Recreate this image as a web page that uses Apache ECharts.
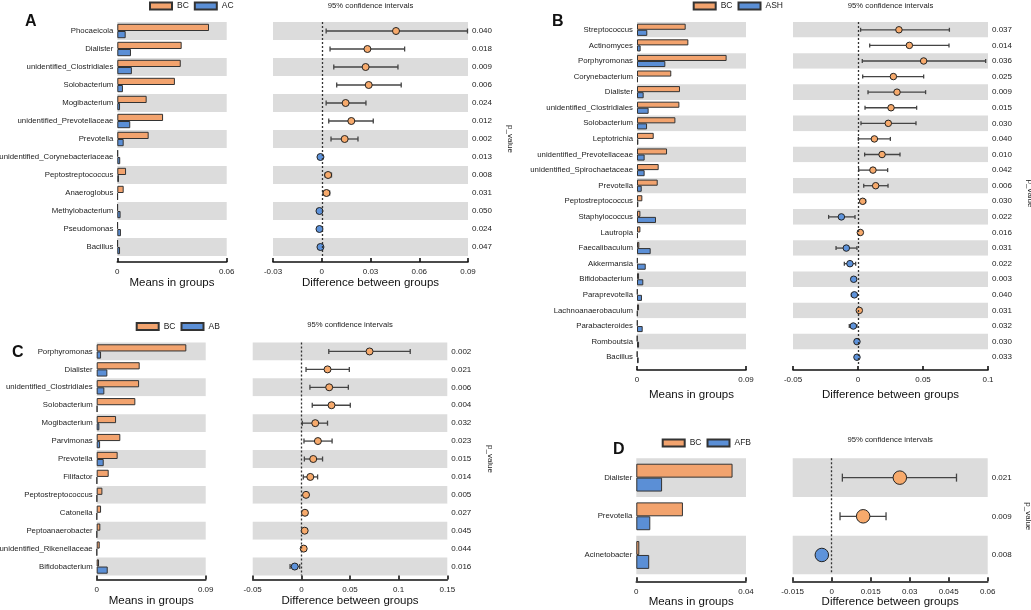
<!DOCTYPE html>
<html><head><meta charset="utf-8">
<script src="https://cdn.jsdelivr.net/npm/echarts@6/dist/echarts.min.js"></script>
<style>html,body{margin:0;padding:0;background:#fff}#c{width:1031px;height:610px}</style>
</head><body><div id="c"></div>
<script>
// ---------- Panel A : BC vs AC ----------
const catsA = ['Phocaeicola','Dialister','unidentified_Clostridiales','Solobacterium','Mogibacterium','unidentified_Prevotellaceae','Prevotella','unidentified_Corynebacteriaceae','Peptostreptococcus','Anaeroglobus','Methylobacterium','Pseudomonas','Bacillus'];
const bcA   = [0.0503,0.0353,0.0348,0.0316,0.0161,0.0251,0.0172,0.0004,0.0048,0.0035,0.0003,0.0003,0.0003];
const acA   = [0.0046,0.0075,0.0080,0.0031,0.0015,0.0071,0.0035,0.0016,0.0009,0.0003,0.0018,0.0020,0.0015];
const diffA = [0.0457,0.0281,0.0270,0.0289,0.0147,0.0182,0.0141,-0.0008,0.0039,0.0029,-0.0014,-0.0014,-0.0008];
const loA   = [0.0027,0.0051,0.0074,0.0092,0.0027,0.0043,0.0057,-0.0016,0.0020,0.0008,-0.0023,-0.0022,-0.0014];
const hiA   = [0.0897,0.0510,0.0469,0.0489,0.0272,0.0317,0.0223,0.0000,0.0060,0.0049,-0.0004,-0.0006,-0.0002];
const pA    = ['0.040','0.018','0.009','0.006','0.024','0.012','0.002','0.013','0.008','0.031','0.050','0.024','0.047'];

// ---------- Panel B : BC vs ASH ----------
const catsB = ['Streptococcus','Actinomyces','Porphyromonas','Corynebacterium','Dialister','unidentified_Clostridiales','Solobacterium','Leptotrichia','unidentified_Prevotellaceae','unidentified_Spirochaetaceae','Prevotella','Peptostreptococcus','Staphylococcus','Lautropia','Faecalibaculum','Akkermansia','Bifidobacterium','Paraprevotella','Lachnoanaerobaculum','Parabacteroides','Romboutsia','Bacillus'];
const bcB   = [0.0402,0.0424,0.0740,0.0283,0.0355,0.0350,0.0317,0.0138,0.0248,0.0179,0.0171,0.0044,0.0028,0.0028,0.0019,0.0006,0.0017,0.0005,0.0017,0.0005,0.0003,0.0003];
const ashB  = [0.0085,0.0030,0.0234,0.0008,0.0055,0.0096,0.0083,0.0011,0.0063,0.0063,0.0039,0.0011,0.0157,0.0008,0.0113,0.0072,0.0052,0.0041,0.0005,0.0047,0.0017,0.0014];
const diffB = [0.0315,0.0395,0.0505,0.0272,0.0300,0.0254,0.0233,0.0126,0.0185,0.0115,0.0136,0.0036,-0.0128,0.0018,-0.0090,-0.0062,-0.0033,-0.0028,0.0010,-0.0036,-0.0008,-0.0008];
const loB   = [0.0020,0.0090,0.0033,0.0036,0.0077,0.0054,0.0023,0.0003,0.0051,0.0005,0.0044,0.0018,-0.0226,0.0008,-0.0169,-0.0105,-0.0049,-0.0051,0.0003,-0.0067,-0.0015,-0.0013];
const hiB   = [0.0703,0.0700,0.0982,0.0505,0.0520,0.0451,0.0446,0.0249,0.0323,0.0228,0.0231,0.0059,-0.0023,0.0031,-0.0008,-0.0018,-0.0015,-0.0010,0.0020,-0.0008,0.0000,-0.0002];
const pB    = ['0.037','0.014','0.036','0.025','0.009','0.015','0.030','0.040','0.010','0.042','0.006','0.030','0.022','0.016','0.031','0.022','0.003','0.040','0.031','0.032','0.030','0.033'];

// ---------- Panel C : BC vs AB ----------
const catsC = ['Porphyromonas','Dialister','unidentified_Clostridiales','Solobacterium','Mogibacterium','Parvimonas','Prevotella','Filifactor','Peptostreptococcus','Catonella','Peptoanaerobacter','unidentified_Rikenellaceae','Bifidobacterium'];
const bcC   = [0.0740,0.0355,0.0350,0.0319,0.0160,0.0195,0.0173,0.0099,0.0047,0.0036,0.0030,0.0025,0.0019];
const abC   = [0.0036,0.0088,0.0063,0.0006,0.0022,0.0028,0.0058,0.0003,0.0003,0.0002,0.0002,0.0002,0.0091];
const diffC = [0.0701,0.0269,0.0286,0.0310,0.0143,0.0170,0.0122,0.0092,0.0048,0.0037,0.0034,0.0024,-0.0068];
const loC   = [0.0282,0.0048,0.0088,0.0112,0.0010,0.0027,0.0031,0.0020,0.0027,0.0020,0.0017,0.0010,-0.0116];
const hiC   = [0.1119,0.0493,0.0483,0.0503,0.0269,0.0316,0.0218,0.0167,0.0068,0.0054,0.0051,0.0037,-0.0017];
const pC    = ['0.002','0.021','0.006','0.004','0.032','0.023','0.015','0.014','0.005','0.027','0.045','0.044','0.016'];

// ---------- Panel D : BC vs AFB ----------
const catsD = ['Dialister','Prevotella','Acinetobacter'];
const bcD   = [0.0351,0.0170,0.0011];
const afbD  = [0.0094,0.0051,0.0047];
const diffD = [0.0262,0.0121,-0.0038];
const loD   = [0.0041,0.0032,-0.0042];
const hiD   = [0.0480,0.0209,-0.0034];
const pD    = ['0.021','0.009','0.008'];

const FONT = '"Liberation Sans", Arial, Helvetica, sans-serif';
const ORANGE = '#F2A36E', BLUE = '#5B8FD6', PT_OR = '#F7AA6C', PT_BL = '#5E93DB', BAND = '#DCDCDC';
const fmt = v => String(+(+v).toFixed(4));

const option = {
  animation: false,
  textStyle: { fontFamily: FONT },
  grid: [], xAxis: [], yAxis: [], series: [], legend: [], title: []
};

function addPanel(p) {
  const gi = option.grid.length;
  option.grid.push({ left: p.barLeft, top: p.top, width: p.barWidth, height: p.height, containLabel: false, outerBoundsMode: 'none' });
  option.grid.push({ left: p.ciLeft, top: p.top, width: p.ciWidth, height: p.height, containLabel: false, outerBoundsMode: 'none' });
  const xAxisCommon = {
    type: 'value', offset: p.offset,
    axisLine: { show: true, lineStyle: { color: '#111', width: 1.6 } },
    axisTick: { show: true, inside: true, length: 4, lineStyle: { color: '#111', width: 1.6 } },
    splitLine: { show: false },
    axisLabel: { fontSize: 8, color: '#222', margin: 6, formatter: fmt },
    nameLocation: 'middle', nameGap: 15,
    nameTextStyle: { fontSize: 11.5, color: '#111' }
  };
  option.xAxis.push(Object.assign({}, xAxisCommon, { gridIndex: gi, min: 0, max: p.barMax, interval: p.barMax, name: 'Means in groups' }));
  option.xAxis.push(Object.assign({}, xAxisCommon, { gridIndex: gi + 1, min: p.ciMin, max: p.ciMax, interval: p.ciInt, name: 'Difference between groups' }));
  const splitArea = { show: true, interval: 0, areaStyle: { color: [BAND, '#ffffff'] } };
  option.yAxis.push({
    gridIndex: gi, type: 'category', data: p.cats, inverse: true,
    axisLine: { show: false }, axisTick: { show: false },
    axisLabel: { fontSize: 7.8, color: '#222', margin: 4, interval: 0 },
    splitArea: splitArea
  });
  option.yAxis.push({
    gridIndex: gi + 1, type: 'category', data: p.cats, inverse: true, position: 'right',
    axisLine: { show: false }, axisTick: { show: false },
    axisLabel: { fontSize: 8, color: '#222', margin: 4, interval: 0, formatter: (v, i) => p.pvals[i] },
    splitArea: splitArea,
    name: 'p_value', nameLocation: 'middle', nameRotate: -90, nameGap: p.pGap,
    nameTextStyle: { fontSize: 8, color: '#222' }
  });
  const bw = { borderColor: '#333', borderWidth: 1 };
  option.series.push({ type: 'bar', name: 'BC', xAxisIndex: gi, yAxisIndex: gi, data: p.bc,
    barGap: '0%', barCategoryGap: p.gap, itemStyle: Object.assign({ color: ORANGE }, bw) });
  option.series.push({ type: 'bar', name: p.other, xAxisIndex: gi, yAxisIndex: gi, data: p.ot,
    barGap: '0%', barCategoryGap: p.gap, itemStyle: Object.assign({ color: BLUE }, bw) });
  // zero reference line
  option.series.push({ type: 'scatter', xAxisIndex: gi + 1, yAxisIndex: gi + 1, data: [], z: 1,
    markLine: { silent: true, symbol: 'none', label: { show: false },
      lineStyle: { type: [2, 2], color: '#333', width: 1.3 }, data: [{ xAxis: 0 }] } });
  // confidence intervals
  const cap = p.cap;
  option.series.push({ type: 'custom', xAxisIndex: gi + 1, yAxisIndex: gi + 1, z: 2,
    data: p.lo.map((l, i) => [l, p.hi[i], i]),
    encode: { x: [0, 1], y: 2 },
    renderItem: (params, api) => {
      const y = api.value(2);
      const a = api.coord([api.value(0), y]);
      const b = api.coord([api.value(1), y]);
      const st = { stroke: '#444', lineWidth: 1.3 };
      return { type: 'group', children: [
        { type: 'line', shape: { x1: a[0], y1: a[1], x2: b[0], y2: b[1] }, style: st },
        { type: 'line', shape: { x1: a[0], y1: a[1] - cap, x2: a[0], y2: a[1] + cap }, style: st },
        { type: 'line', shape: { x1: b[0], y1: b[1] - cap, x2: b[0], y2: b[1] + cap }, style: st }
      ] };
    } });
  option.series.push({ type: 'scatter', xAxisIndex: gi + 1, yAxisIndex: gi + 1, z: 3,
    data: p.diff.map((d, i) => [d, i]), symbolSize: p.sym,
    itemStyle: { color: prm => prm.value[0] >= 0 ? PT_OR : PT_BL, borderColor: '#222', borderWidth: 1, opacity: 1 } });
  option.legend.push({ data: ['BC', p.other], left: p.legLeft, top: p.legTop, padding: 0,
    itemWidth: 22, itemHeight: 7, itemGap: 5, icon: 'rect', selectedMode: false,
    textStyle: { fontSize: 8.5, color: '#222', fontFamily: FONT } });
  option.title.push({ text: p.letter, left: p.letLeft, top: p.letTop, padding: 0,
    textStyle: { fontSize: 16, fontWeight: 'bold', color: '#111', fontFamily: FONT } });
  option.title.push({ text: '95% confidence intervals', left: p.ciLeft + p.ciWidth / 2, top: p.ciTitleTop,
    textAlign: 'center', padding: 0,
    textStyle: { fontSize: 7.7, fontWeight: 'normal', color: '#222', fontFamily: FONT } });
}

addPanel({ letter: 'A', other: 'AC', cats: catsA, bc: bcA, ot: acA, diff: diffA, lo: loA, hi: hiA, pvals: pA,
  top: 22, height: 234, barLeft: 117.3, barWidth: 109.4, barMax: 0.06,
  ciLeft: 273, ciWidth: 195, ciMin: -0.03, ciMax: 0.09, ciInt: 0.03, offset: 6,
  gap: '20%', sym: 7, cap: 2.5, pGap: 38,
  legLeft: 149, legTop: 1.5, letLeft: 25, letTop: 14, ciTitleTop: 1.5 });
addPanel({ letter: 'B', other: 'ASH', cats: catsB, bc: bcB, ot: ashB, diff: diffB, lo: loB, hi: hiB, pvals: pB,
  top: 22, height: 343, barLeft: 637, barWidth: 109, barMax: 0.09,
  ciLeft: 793, ciWidth: 195, ciMin: -0.05, ciMax: 0.1, ciInt: 0.05, offset: 5,
  gap: '22%', sym: 6.5, cap: 2, pGap: 38,
  legLeft: 692.7, legTop: 1.5, letLeft: 552, letTop: 14, ciTitleTop: 1.5 });
addPanel({ letter: 'C', other: 'AB', cats: catsC, bc: bcC, ot: abC, diff: diffC, lo: loC, hi: hiC, pvals: pC,
  top: 342.5, height: 233, barLeft: 96.7, barWidth: 109, barMax: 0.09,
  ciLeft: 252.7, ciWidth: 194.6, ciMin: -0.05, ciMax: 0.15, ciInt: 0.05, offset: 4,
  gap: '20%', sym: 7, cap: 2.5, pGap: 39,
  legLeft: 135.7, legTop: 322, letLeft: 12, letTop: 345, ciTitleTop: 321 });
addPanel({ letter: 'D', other: 'AFB', cats: catsD, bc: bcD, ot: afbD, diff: diffD, lo: loD, hi: hiD, pvals: pD,
  top: 458.3, height: 116, barLeft: 636.3, barWidth: 109.7, barMax: 0.04,
  ciLeft: 792.7, ciWidth: 195, ciMin: -0.015, ciMax: 0.06, ciInt: 0.015, offset: 7,
  gap: '28%', sym: 13.5, cap: 4, pGap: 37,
  legLeft: 661.7, legTop: 438.5, letLeft: 613, letTop: 442, ciTitleTop: 436 });

const chart = echarts.init(document.getElementById('c'), null, { renderer: 'canvas' });
chart.setOption(option);
</script>
</body></html>
